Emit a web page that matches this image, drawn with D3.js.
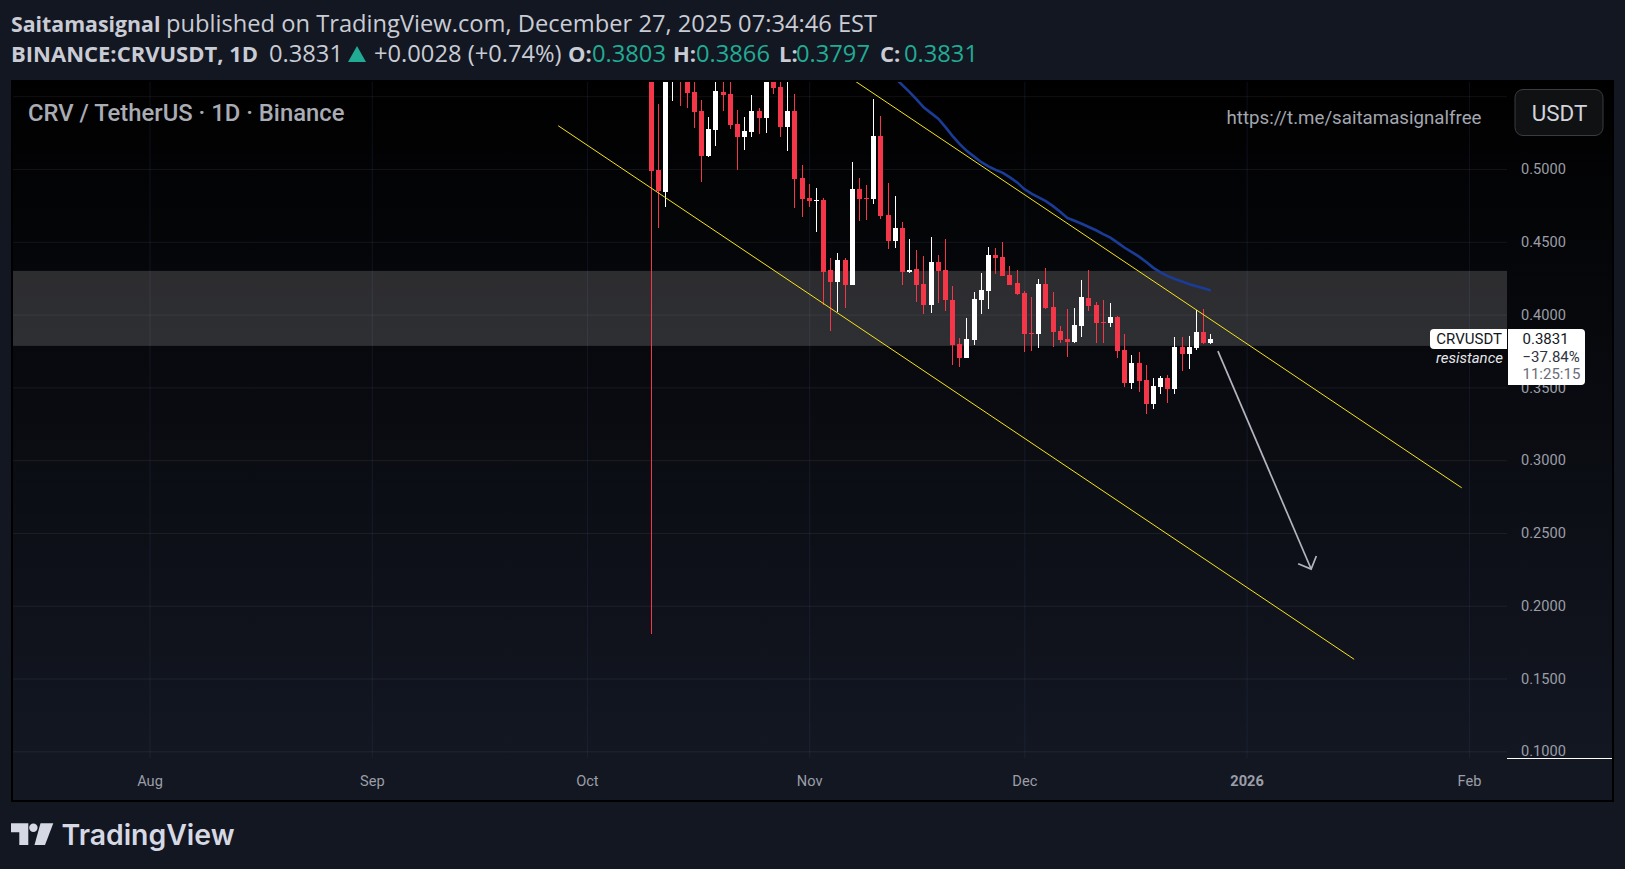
<!DOCTYPE html>
<html>
<head>
<meta charset="utf-8">
<script src="https://cdn.jsdelivr.net/npm/d3@7"></script>
<style>
html, body { margin: 0; padding: 0; background: #131722; overflow: hidden; }
svg { display: block; }
text { font-family: Roboto, sans-serif; }
.head { font-family: "Open Sans", sans-serif; font-size: 23.7px; fill: #c9ccd4; }
.head-bold { font-family: "Open Sans", sans-serif; font-size: 22px; font-weight: 700; fill: #c9ccd4; }
.axis text { font-size: 14.6px; fill: #9b9ea7; }
</style>
</head>
<body>
<svg id="chart" width="1625" height="869"></svg>
<script>
// candles, one per day from Oct 10 2025
var firstDay = new Date(Date.UTC(2025, 9, 10));
var opens = [
    0.6050,0.4992,0.4841,0.5650,0.5900,0.5640,0.5528,0.5397,0.5088,0.5267,0.5528,0.5514,0.5308,0.5219,0.5253,0.5397,0.5349,0.5650,0.5562,0.5287,0.5397,0.4937,
    0.4800,0.4779,0.4786,0.4305,0.4223,0.4374,0.4202,0.4861,0.4800,0.4793,0.5226,0.4683,0.4504,0.4594,0.4292,0.4312,0.4209,0.4065,0.4360,0.4305,0.4099,0.3797,0.3701,0.3825,0.4099,0.4161,0.4409,0.4395,0.4271,0.4216,
    0.4148,0.3873,0.3866,0.4209,0.4051,0.3887,0.3831,0.3811,0.3921,0.4113,0.4065,0.3948,0.3941,0.3983,0.3756,0.3529,0.3667,0.3550,0.3385,0.3502,0.3564,0.3488,0.3776,0.3728,0.3769,0.3880,0.3803
];
var highs = [
    0.6200,0.5445,0.5900,0.6050,0.6000,0.5800,0.5650,0.5473,0.5356,0.5620,0.5650,0.5640,0.5404,0.5356,0.5507,0.5418,0.5700,0.5750,0.5650,0.5680,0.5514,0.5026,
    0.4896,0.4869,0.4800,0.4388,0.4422,0.4388,0.5047,0.4937,0.4889,0.5480,0.5363,0.4903,0.4813,0.4635,0.4518,0.4443,0.4402,0.4532,0.4409,0.4518,0.4196,0.3838,0.3976,0.4154,0.4285,0.4464,0.4457,0.4498,0.4333,0.4305,
    0.4161,0.4120,0.4244,0.4319,0.4154,0.3921,0.4038,0.4044,0.4237,0.4305,0.4086,0.4099,0.4079,0.3990,0.3866,0.3722,0.3742,0.3653,0.3564,0.3577,0.3584,0.3845,0.3845,0.3852,0.4031,0.4038,0.3866
];
var lows = [
    0.1806,0.4596,0.4740,0.5466,0.5432,0.5418,0.5281,0.4910,0.5081,0.5157,0.5397,0.5274,0.4992,0.5129,0.5219,0.5239,0.5246,0.5514,0.5219,0.5122,0.4731,0.4669,
    0.4738,0.4566,0.4065,0.3886,0.4017,0.4044,0.4202,0.4642,0.4648,0.4758,0.4655,0.4449,0.4456,0.4202,0.4285,0.4086,0.4003,0.4010,0.4079,0.4024,0.3653,0.3639,0.3701,0.3790,0.4003,0.4038,0.4278,0.4264,0.4202,0.4134,
    0.3742,0.3749,0.3770,0.4038,0.3777,0.3804,0.3708,0.3804,0.3845,0.4024,0.3804,0.3804,0.3914,0.3701,0.3502,0.3488,0.3467,0.3317,0.3351,0.3454,0.3392,0.3454,0.3612,0.3625,0.3756,0.3800,0.3797
];
var closes = [
    0.4985,0.4848,0.5800,0.5900,0.5620,0.5521,0.5390,0.5088,0.5274,0.5535,0.5507,0.5301,0.5219,0.5260,0.5397,0.5349,0.5640,0.5555,0.5287,0.5397,0.4930,0.4793,
    0.4779,0.4786,0.4292,0.4223,0.4374,0.4202,0.4861,0.4793,0.4793,0.5226,0.4676,0.4504,0.4593,0.4292,0.4305,0.4202,0.4065,0.4360,0.4299,0.4099,0.3790,0.3701,0.3831,0.4106,0.4168,0.4409,0.4388,0.4264,0.4202,0.4141,
    0.3866,0.3866,0.4209,0.4044,0.3880,0.3825,0.3811,0.3928,0.4120,0.4058,0.3941,0.3941,0.3983,0.3749,0.3529,0.3667,0.3543,0.3385,0.3509,0.3564,0.3488,0.3776,0.3728,0.3776,0.3880,0.3803,0.3831
];

// moving average, daily from Nov 13
var maFirstDay = new Date(Date.UTC(2025, 10, 13));
var maValues = [
    0.5624,0.5576,0.5528,0.5477,0.5422,0.5384,0.5346,0.5288,0.5226,0.5171,0.5123,0.5085,0.5047,0.5018,0.4994,0.4974,0.4942,0.4908,
    0.4862,0.4831,0.4805,0.4779,0.4745,0.4706,0.4664,0.4644,0.4624,0.4602,0.4579,0.4553,0.4529,0.4494,0.4459,0.4429,0.4398,0.4361,0.4321,0.4290,0.4264,0.4244,0.4227,0.4209,0.4194,0.4180,0.4165
];

// drawings: [date, price]
var channelLower = [[new Date(Date.UTC(2025, 8, 27)), 0.5297], [new Date(Date.UTC(2026, 0, 16)), 0.1632]];
var channelUpper = [[new Date(Date.UTC(2025, 10, 7)), 0.5617], [new Date(Date.UTC(2026, 0, 31)), 0.2810]];
var arrowLine = [[new Date(Date.UTC(2025, 11, 28)), 0.3749], [new Date(Date.UTC(2026, 0, 10)), 0.2252]];
var zone = [0.4300, 0.3785];

var priceTicks = [0.10, 0.15, 0.20, 0.25, 0.30, 0.35, 0.40, 0.45, 0.50, 0.55];
var timeTicks = [
    new Date(Date.UTC(2025, 7, 1)), new Date(Date.UTC(2025, 8, 1)), new Date(Date.UTC(2025, 9, 1)), new Date(Date.UTC(2025, 10, 1)),
    new Date(Date.UTC(2025, 11, 1)), new Date(Date.UTC(2026, 0, 1)), new Date(Date.UTC(2026, 1, 1))
];
var timeLabels = ['Aug', 'Sep', 'Oct', 'Nov', 'Dec', '2026', 'Feb'];

var ohlcLabels = ['O:', 'H:', 'L:', 'C:'];
var ohlcValues = ['0.3803', '0.3866', '0.3797', '0.3831'];

var paneLeft = 13, paneRight = 1507, paneTop = 82, paneBottom = 758, frameRight = 1612, frameBottom = 800;

var x = d3.scaleUtc()
    .domain([timeTicks[0], timeTicks[timeTicks.length - 1]])
    .range([149.5, 1468.9]);
var y = d3.scaleLinear()
    .domain([0.1, 0.5])
    .range([751.3, 169]);

var svg = d3.select('#chart');
var defs = svg.append('defs');

var grad = defs.append('linearGradient')
    .attr('id', 'bg')
    .attr('x1', 0).attr('y1', 0).attr('x2', 0).attr('y2', 1);
grad.append('stop').attr('offset', 0).attr('stop-color', '#000000');
grad.append('stop').attr('offset', 0.94).attr('stop-color', '#131722');

defs.append('clipPath').attr('id', 'pane')
    .append('rect')
    .attr('x', paneLeft).attr('y', paneTop)
    .attr('width', paneRight - paneLeft).attr('height', paneBottom - paneTop);

// frame + background
svg.append('rect')
    .attr('x', paneLeft - 1).attr('y', paneTop - 1)
    .attr('width', frameRight - paneLeft + 2).attr('height', frameBottom - paneTop + 2)
    .attr('fill', 'url(#bg)')
    .attr('stroke', '#000')
    .attr('stroke-width', 2);

// time axis, tick lines run up as the grid
var timeAxis = d3.axisBottom(x)
    .tickValues(timeTicks)
    .tickSize(paneBottom - paneTop)
    .tickFormat(function(d, i) { return timeLabels[i]; });
var gx = svg.append('g')
    .attr('class', 'axis')
    .attr('transform', 'translate(0,' + paneTop + ')')
    .call(timeAxis);
gx.select('.domain').remove();
gx.selectAll('line').attr('stroke', 'rgba(60,72,120,0.22)');
gx.selectAll('text')
    .attr('y', paneBottom - paneTop + 23)
    .attr('dy', '0.32em')
    .style('font-weight', function(d, i) { return timeLabels[i] === '2026' ? 700 : 400; });

// price axis
var priceAxis = d3.axisRight(y)
    .tickValues(priceTicks)
    .tickSize(paneRight - paneLeft)
    .tickPadding(14)
    .tickFormat(d3.format('.4f'));
var gy = svg.append('g')
    .attr('class', 'axis')
    .attr('transform', 'translate(' + paneLeft + ',0)')
    .call(priceAxis);
gy.select('.domain').remove();
gy.selectAll('line').attr('stroke', 'rgba(240,243,250,0.07)');
gy.selectAll('.tick')
    .filter(function(d) { return d === 0.55; })
    .select('text').remove();

var pane = svg.append('g').attr('clip-path', 'url(#pane)');

// resistance zone
pane.append('rect')
    .attr('x', paneLeft)
    .attr('y', y(zone[0]))
    .attr('width', paneRight - paneLeft)
    .attr('height', y(zone[1]) - y(zone[0]))
    .attr('fill', 'rgba(255,255,255,0.155)');

// candles
var candles = d3.range(opens.length);
function candleX(i) {
    return Math.floor(x(d3.utcDay.offset(firstDay, i)));
}
function candleColor(i) {
    return closes[i] < opens[i] ? '#f43649' : '#ffffff';
}
var candle = pane.append('g').attr('shape-rendering', 'crispEdges')
    .selectAll('g').data(candles).enter().append('g');
candle.append('rect')
    .attr('x', candleX)
    .attr('y', function(i) { return Math.round(y(highs[i])); })
    .attr('width', 1)
    .attr('height', function(i) { return Math.round(y(lows[i])) - Math.round(y(highs[i])); })
    .attr('fill', candleColor);
candle.append('rect')
    .attr('x', function(i) { return candleX(i) - 2; })
    .attr('y', function(i) { return Math.round(y(Math.max(opens[i], closes[i]))); })
    .attr('width', 5)
    .attr('height', function(i) {
        return Math.max(1, Math.round(y(Math.min(opens[i], closes[i]))) - Math.round(y(Math.max(opens[i], closes[i]))));
    })
    .attr('fill', candleColor);

// moving average
var maLine = d3.line()
    .x(function(d, i) { return x(d3.utcDay.offset(maFirstDay, i)); })
    .y(function(d) { return y(d); });
pane.append('path')
    .attr('d', maLine(maValues))
    .attr('fill', 'none')
    .attr('stroke', '#1b3c96')
    .attr('stroke-width', 2.6);

// channel + arrow
var drawLine = d3.line()
    .x(function(d) { return x(d[0]); })
    .y(function(d) { return y(d[1]); });
[channelLower, channelUpper].forEach(function(l) {
    pane.append('path')
        .attr('d', drawLine(l))
        .attr('fill', 'none')
        .attr('stroke', '#f7e41e')
        .attr('stroke-width', 1);
});

var ax0 = x(arrowLine[0][0]), ay0 = y(arrowLine[0][1]);
var ax1 = x(arrowLine[1][0]), ay1 = y(arrowLine[1][1]);
var ang = Math.atan2(ay1 - ay0, ax1 - ax0);
var headLen = 14;
var headPath = d3.path();
headPath.moveTo(ax1 + headLen * Math.cos(ang + Math.PI - Math.PI / 4), ay1 + headLen * Math.sin(ang + Math.PI - Math.PI / 4));
headPath.lineTo(ax1, ay1);
headPath.lineTo(ax1 + headLen * Math.cos(ang + Math.PI + Math.PI / 4), ay1 + headLen * Math.sin(ang + Math.PI + Math.PI / 4));
pane.append('path')
    .attr('d', drawLine(arrowLine))
    .attr('fill', 'none')
    .attr('stroke', '#b2b5be')
    .attr('stroke-width', 1.7);
pane.append('path')
    .attr('d', headPath.toString())
    .attr('fill', 'none')
    .attr('stroke', '#b2b5be')
    .attr('stroke-width', 1.7);

// white line under the price scale
svg.append('line')
    .attr('x1', paneRight).attr('x2', frameRight)
    .attr('y1', 758.5).attr('y2', 758.5)
    .attr('stroke', '#ffffff');

// pane texts
svg.append('text')
    .attr('x', 28).attr('y', 113)
    .attr('dy', '0.35em')
    .attr('font-size', 23.8)
    .attr('font-weight', 500)
    .attr('fill', '#a9acb4')
    .text('CRV / TetherUS · 1D · Binance');
svg.append('text')
    .attr('x', 1481.5).attr('y', 117.5)
    .attr('dy', '0.35em')
    .attr('text-anchor', 'end')
    .attr('font-size', 18.7)
    .attr('fill', '#a3a6ae')
    .text('https://t.me/saitamasignalfree');

// USDT button
svg.append('rect')
    .attr('x', 1515).attr('y', 89.5)
    .attr('width', 88).attr('height', 46)
    .attr('rx', 8)
    .attr('fill', '#101113')
    .attr('stroke', '#3a3c42');
svg.append('text')
    .attr('x', 1559.5).attr('y', 113)
    .attr('dy', '0.35em')
    .attr('text-anchor', 'middle')
    .attr('font-size', 22.4)
    .attr('fill', '#d1d4dc')
    .text('USDT');

// last price tags
svg.append('path')
    .attr('d', 'M1507 329H1434a4 4 0 0 0 -4 4V345a4 4 0 0 0 4 4H1507Z')
    .attr('fill', '#ffffff');
svg.append('path')
    .attr('d', 'M1508 329H1581a4 4 0 0 1 4 4V381a4 4 0 0 1 -4 4H1508Z')
    .attr('fill', '#ffffff');
svg.append('text')
    .attr('x', 1502).attr('y', 339)
    .attr('dy', '0.35em')
    .attr('text-anchor', 'end')
    .attr('font-size', 15)
    .attr('fill', '#131722')
    .text('CRVUSDT');
svg.append('text')
    .attr('x', 1503).attr('y', 358)
    .attr('dy', '0.35em')
    .attr('text-anchor', 'end')
    .attr('font-size', 15)
    .attr('font-style', 'italic')
    .attr('fill', '#e6e7eb')
    .text('resistance');
svg.append('text')
    .attr('x', 1522.5).attr('y', 339).attr('dy', '0.35em')
    .attr('font-size', 15).attr('fill', '#131722').text('0.3831');
svg.append('text')
    .attr('x', 1522.5).attr('y', 357).attr('dy', '0.35em')
    .attr('font-size', 15).attr('fill', '#30343e').text('−37.84%');
svg.append('text')
    .attr('x', 1522.5).attr('y', 374).attr('dy', '0.35em')
    .attr('font-size', 15).attr('fill', '#6a6d78').text('11:25:15');

// header
svg.append('text').attr('class', 'head-bold').attr('x', 11).attr('y', 32)
    .style('font-size', '21.3px').text('Saitamasignal');
svg.append('text').attr('class', 'head').attr('x', 166).attr('y', 32)
    .text('published on TradingView.com, December 27, 2025 07:34:46 EST');

svg.append('text').attr('class', 'head-bold').attr('x', 11).attr('y', 62)
    .text('BINANCE:CRVUSDT, 1D');
svg.append('text').attr('class', 'head').attr('x', 269).attr('y', 62).text('0.3831');
svg.append('path')
    .attr('d', 'M357 46L366 62H348Z')
    .attr('fill', '#22ab94');
svg.append('text').attr('class', 'head').attr('x', 374).attr('y', 62).text('+0.0028 (+0.74%)');

var labelX = [568, 673, 779, 880];
var valueX = [592, 696, 796, 904];
ohlcLabels.forEach(function(l, i) {
    svg.append('text').attr('class', 'head-bold').attr('x', labelX[i]).attr('y', 62).text(l);
    svg.append('text').attr('class', 'head').attr('x', valueX[i]).attr('y', 62)
        .style('fill', '#22ab94').text(ohlcValues[i]);
});

// logo
var logo = svg.append('g').attr('fill', '#d6d9e3');
logo.append('path').attr('d', 'M11 823.3H28.3V845H19.3V832.3H11Z');
logo.append('circle').attr('cx', 33.4).attr('cy', 827.8).attr('r', 4.2);
logo.append('path').attr('d', 'M40.5 823.3H53.3L45 845H34.5Z');
logo.append('text')
    .attr('x', 61.5).attr('y', 845)
    .attr('font-size', 28.4)
    .attr('font-weight', 600)
    .style('font-family', 'Inter, sans-serif')
    .text('TradingView');
</script>
</body>
</html>
